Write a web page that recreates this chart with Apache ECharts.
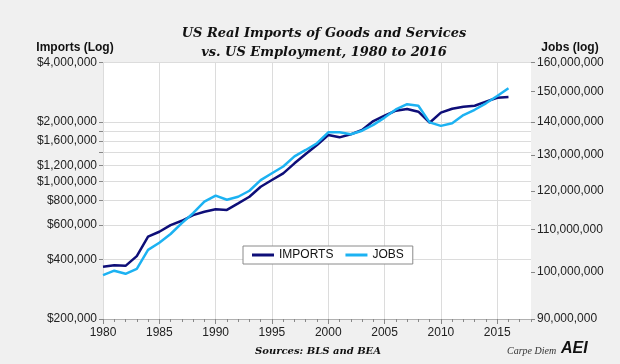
<!DOCTYPE html>
<html><head><meta charset="utf-8">
<script src="https://cdn.jsdelivr.net/npm/echarts@6/dist/echarts.min.js"></script>
<style>html,body{margin:0;padding:0;background:#f0f0f0}#c{width:620px;height:364px}</style>
</head><body><div id="c"></div>
<script>
const years = [1980,1981,1982,1983,1984,1985,1986,1987,1988,1989,1990,1991,1992,1993,1994,1995,1996,1997,1998,1999,2000,2001,2002,2003,2004,2005,2006,2007,2008,2009,2010,2011,2012,2013,2014,2015,2016];
const imports = [368000,375000,372000,417000,523000,554000,599000,630000,673000,700000,720000,715000,772000,834000,937000,1014000,1096000,1232000,1374000,1526000,1715000,1669000,1729000,1818000,2019000,2148000,2278000,2324000,2251000,1980000,2226000,2331000,2387000,2414000,2532000,2651000,2674000];
const jobs = [99300000,100300000,99600000,100700000,105100000,106800000,108900000,111600000,114100000,117100000,118700000,117600000,118400000,120000000,122900000,124800000,126700000,129600000,131500000,133500000,136800000,136800000,136200000,137300000,139100000,141400000,144000000,145700000,145200000,139900000,138800000,139600000,142200000,143900000,146000000,148400000,151000000];
const importTickValues = [200000,400000,600000,800000,1000000,1200000,1400000,1600000,1800000,2000000,4000000];
const importLabelValues = [200000,400000,600000,800000,1000000,1200000,1600000,2000000,4000000];
const jobTickValues = [90000000,100000000,110000000,120000000,130000000,140000000,150000000,160000000];
const yearLabelValues = [1980,1985,1990,1995,2000,2005,2010,2015];
const yearMinorTicks = [1980,1981,1982,1983,1984,1985,1986,1987,1988,1989,1990,1991,1992,1993,1994,1995,1996,1997,1998,1999,2000,2001,2002,2003,2004,2005,2006,2007,2008,2009,2010,2011,2012,2013,2014,2015,2016,2017,2018];
const xMin = 1980, xMax = 2018;
const impMin = 200000, impMax = 4000000;
const jobMin = 90000000, jobMax = 160000000;

const L = Math.log10;
const fmt = v => Math.round(Math.pow(10, v)).toLocaleString('en-US');
const labelFont = {fontFamily: 'Liberation Sans', fontSize: 12, color: '#222'};

const chart = echarts.init(document.getElementById('c'), null, {renderer: 'canvas'});
chart.setOption({
  backgroundColor: '#f0f0f0',
  animation: false,
  grid: {left: 103, right: 89, top: 62.5, bottom: 45, show: true, backgroundColor: '#ffffff', borderWidth: 0},
  legend: {
    left: 243, top: 246, backgroundColor: '#ffffff', borderColor: '#8a8a8a', borderWidth: 1, borderRadius: 0,
    padding: [3, 9], itemGap: 12, itemWidth: 22, itemHeight: 3, icon: 'rect',
    textStyle: {fontFamily: 'Liberation Sans', fontSize: 12, color: '#111'},
    data: ['IMPORTS', 'JOBS']
  },
  xAxis: [{
    type: 'value', position: 'bottom', min: xMin, max: xMax,
    axisLine: {show: true, lineStyle: {color: '#b0b0b0', width: 1}},
    axisTick: {show: true, customValues: yearMinorTicks, length: 3, lineStyle: {color: '#888'}},
    axisLabel: {show: false},
    splitLine: {show: false}
  }, {
    type: 'value', position: 'bottom', min: xMin, max: xMax,
    axisLine: {show: false},
    axisTick: {show: true, customValues: yearLabelValues, length: 5, lineStyle: {color: '#888'}},
    axisLabel: Object.assign({show: true, customValues: yearLabelValues, margin: 8, formatter: v => String(v)}, labelFont),
    splitLine: {show: true, lineStyle: {color: '#dcdcdc', width: 1}}
  }],
  yAxis: [{
    type: 'value', position: 'left', min: L(impMin), max: L(impMax),
    axisLine: {show: false},
    axisTick: {show: true, customValues: importTickValues.map(L), length: 4, lineStyle: {color: '#888'}},
    axisLabel: Object.assign({customValues: importLabelValues.map(L), margin: 6, formatter: v => '$' + fmt(v)}, labelFont),
    splitLine: {show: true, lineStyle: {color: '#dcdcdc', width: 1}}
  }, {
    type: 'value', position: 'right', min: L(jobMin), max: L(jobMax),
    axisLine: {show: false},
    axisTick: {show: true, customValues: jobTickValues.map(L), length: 4, lineStyle: {color: '#888'}},
    axisLabel: Object.assign({customValues: jobTickValues.map(L), margin: 6, formatter: v => fmt(v)}, labelFont),
    splitLine: {show: false}
  }],
  series: [{
    name: 'IMPORTS', type: 'line', xAxisIndex: 0, yAxisIndex: 0, showSymbol: false, symbol: 'none',
    lineStyle: {color: '#0e0e78', width: 2.5}, itemStyle: {color: '#0e0e78'},
    data: years.map((y, i) => [y, L(imports[i])])
  }, {
    name: 'JOBS', type: 'line', xAxisIndex: 0, yAxisIndex: 1, showSymbol: false, symbol: 'none',
    lineStyle: {color: '#1cb2f2', width: 2.5}, itemStyle: {color: '#1cb2f2'},
    data: years.map((y, i) => [y, L(jobs[i])])
  }],
  graphic: [
    {type: 'text', x: 324, y: 34, style: {text: 'US Real Imports of Goods and Services', font: 'italic bold 13px "DejaVu Serif"', fill: '#111', align: 'center', verticalAlign: 'middle'}},
    {type: 'text', x: 324, y: 53, style: {text: 'vs. US Employment, 1980 to 2016', font: 'italic bold 13px "DejaVu Serif"', fill: '#111', align: 'center', verticalAlign: 'middle'}},
    {type: 'text', x: 75, y: 48, style: {text: 'Imports (Log)', font: 'bold 12px "Liberation Sans"', fill: '#111', align: 'center', verticalAlign: 'middle'}},
    {type: 'text', x: 570, y: 48, style: {text: 'Jobs (log)', font: 'bold 12px "Liberation Sans"', fill: '#111', align: 'center', verticalAlign: 'middle'}},
    {type: 'text', x: 318, y: 351, style: {text: 'Sources: BLS and BEA', font: 'italic bold 10px "DejaVu Serif"', fill: '#111', align: 'center', verticalAlign: 'middle'}},
    {type: 'text', x: 507, y: 351, style: {text: 'Carpe Diem', font: 'italic 10px "Liberation Serif"', fill: '#333', align: 'left', verticalAlign: 'middle'}},
    {type: 'text', x: 561, y: 349, style: {text: 'AEI', font: 'italic bold 16px "Liberation Sans"', fill: '#111', align: 'left', verticalAlign: 'middle'}}
  ]
});
</script></body></html>
